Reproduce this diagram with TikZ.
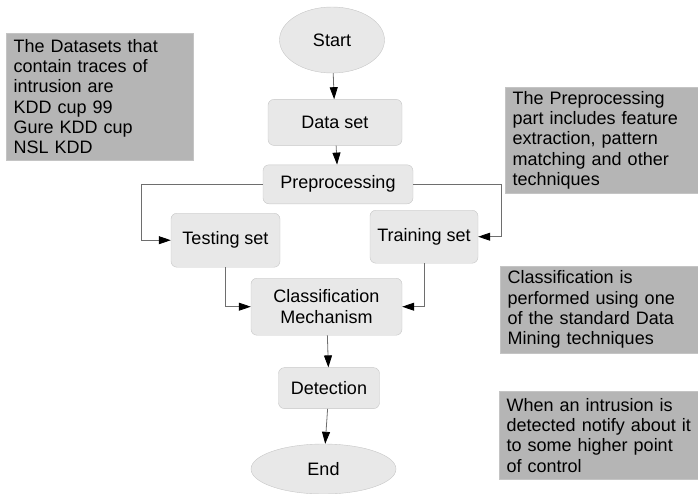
\documentclass[tikz,border=0pt]{standalone}
\usepackage{fontspec}
\setmainfont{Liberation Sans}
\usetikzlibrary{positioning}
\usetikzlibrary{shapes.geometric}
\usetikzlibrary{arrows.meta}

\definecolor{boxfill}{HTML}{E8E8E8}
\definecolor{boxline}{HTML}{C6C6C6}
\definecolor{notefill}{HTML}{B5B5B5}
\definecolor{notedraw}{HTML}{C4C4C4}
\definecolor{wire}{HTML}{6E6E6E}

\tikzset{
  term/.style={ellipse, draw=boxline, fill=boxfill, inner sep=0pt},
  proc/.style={rectangle, rounded corners=6pt, draw=boxline, fill=boxfill,
                inner sep=0pt, align=center},
  note/.style={rectangle, draw=notedraw, fill=notefill, anchor=north west,
               inner xsep=7.5pt, inner ysep=0pt, align=left},
  flow/.style={draw=wire, line width=0.8pt, -{Triangle[black,length=12pt,width=8pt]}}
}

\begin{document}
\begin{tikzpicture}[x=1pt, y=-1pt, node distance=20pt,
                    font=\fontsize{18}{20.3}\selectfont]
  \useasboundingbox (0,0) rectangle (698,493);
  % main flow
  \node[term, minimum width=105pt, minimum height=66pt] (start) at (332,40) {Start};
  \node[proc, minimum width=134pt, minimum height=46pt] (data)
       [below=26pt of start, xshift=3pt] {Data set};
  \node[proc, minimum width=150pt, minimum height=39pt] (prep)
       [below=19pt of data, xshift=3pt] {Preprocessing};
  \node[proc, minimum width=109pt, minimum height=54pt] (test)
       [below=9pt of prep, xshift=-112.5pt] {Testing set};
  \node[proc, minimum width=108pt, minimum height=53pt] (train)
       [below=6pt of prep, xshift=86pt] {Training set};
  \node[proc, minimum width=151pt, minimum height=57pt] (class)
       [below=74pt of prep, xshift=-11.5pt] {Classification\\Mechanism};
  \node[proc, minimum width=101pt, minimum height=41pt] (detect)
       [below=32pt of class, xshift=2.5pt] {Detection};
  \node[term, minimum width=145pt, minimum height=50pt] (end)
       [below=35pt of detect, xshift=-5.5pt] {End};

  % side notes (the right ones run off the page edge)
  \node[note, text width=172pt, minimum height=127pt] (dsnote) at (6,33)
       {The Datasets that\\contain traces of\\intrusion are\\KDD cup 99\\Gure KDD cup\\NSL KDD};
  \node[note, text width=230pt, minimum height=106pt] (ppnote) at (505,87)
       {The Preprocessing\\part includes feature\\extraction, pattern\\matching and other\\techniques};
  \node[note, text width=230pt, minimum height=87pt] (clnote) at (500,266)
       {Classification is\\performed using one\\of the standard Data\\Mining techniques};
  \node[note, text width=230pt, minimum height=88pt] (dtnote) at (499,391)
       {When an intrusion is\\detected notify about it\\to some higher point\\of control};

  \path[flow] (start) edge (data)
              (data) edge (prep)
              (class) edge (detect)
              (detect) edge (end);
  \draw[flow] (prep.west) -- ++(-121pt,0) |- (test.west);
  \draw[flow] (prep.east) -- ++(88pt,0) |- (train.east);
  \draw[flow] (test.south) |- (class.west);
  \draw[flow] (train.south) |- (class.east);
\end{tikzpicture}
\end{document}
